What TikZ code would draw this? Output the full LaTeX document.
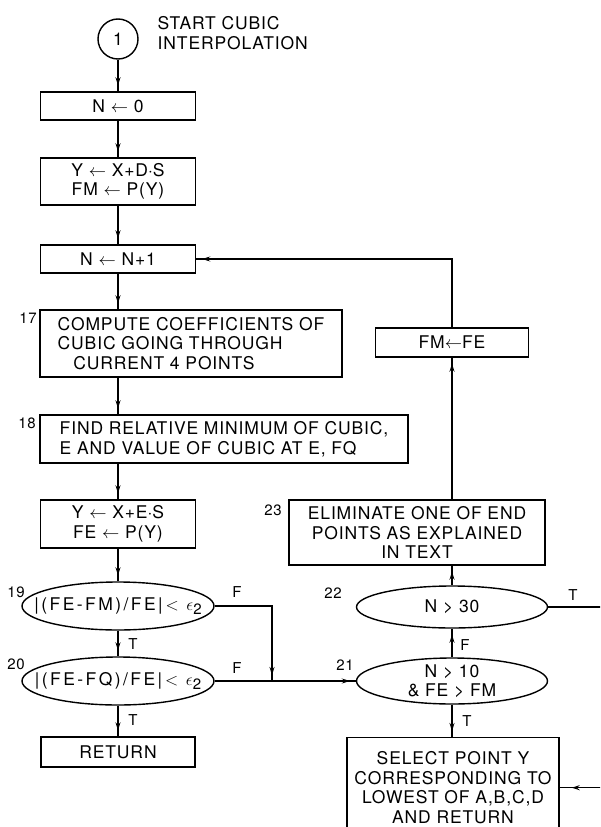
\documentclass[tikz,border=0pt]{standalone}
\usepackage{fontspec}
\setsansfont{TeX Gyre Heros}[LetterSpace=5]
\usetikzlibrary{arrows.meta,decorations.markings,shapes.geometric}
\newcommand\lettr{\fontsize{17.5}{19.5}\selectfont\sffamily}
\newcommand\numfont{\fontsize{15}{17}\selectfont\sffamily}
\newcommand\widelettr{\fontsize{17.5}{19.5}\selectfont\sffamily\addfontfeatures{LetterSpace=14}}
\newcommand\epsii{\(\,<\,\epsilon\)\raisebox{-4pt}{\numfont 2}}
\begin{document}
\begin{tikzpicture}[x=1pt,y=-1pt,line width=1.4pt,
  box/.style={draw,rectangle,inner sep=0pt,font=\lettr,align=center},
  oval/.style={draw,ellipse,inner sep=0pt},
  txt/.style={font=\lettr,align=center,inner sep=0pt},
  widetxt/.style={font=\widelettr,align=center,inner sep=0pt},
  num/.style={font=\numfont,inner sep=0pt},
  flow/.style={postaction={decorate},decoration={markings,mark=at position #1 with {\arrow{Stealth[length=8pt,width=5pt]}}}},
  flow/.default=-6pt]
\useasboundingbox (0,0) rectangle (600,827);
\clip (0,0) rectangle (600,827);
% left column
\node[draw,circle,minimum size=40pt,inner sep=0pt,font=\lettr] (c1) at (118,39) {1};
\node[txt,anchor=west,align=left] (start) at (157,33) {START CUBIC\\INTERPOLATION};
\node[box,minimum width=155pt,minimum height=28pt] (b0) at (118,106) {N \(\leftarrow\) 0};
\node[box,minimum width=155pt,minimum height=47pt] (b1) at (118,181.5) {Y \(\leftarrow\) X+D\(\cdot\)S\\FM \(\leftarrow\) P(Y)};
\node[box,minimum width=155pt,minimum height=28pt] (b2) at (118,259) {N \(\leftarrow\) N+1};
\node[box,minimum width=302pt,minimum height=67pt,align=left] (b17) at (191,343.5) {COMPUTE COEFFICIENTS OF\\CUBIC GOING THROUGH\\\hspace*{0.9em}CURRENT 4 POINTS};
\node[box,minimum width=368pt,minimum height=48pt,align=left] (b18) at (224,439) {FIND RELATIVE MINIMUM OF CUBIC,\\E AND VALUE OF CUBIC AT E, FQ};
\node[box,minimum width=155pt,minimum height=48pt] (b3) at (118,524) {Y \(\leftarrow\) X+E\(\cdot\)S\\FE \(\leftarrow\) P(Y)};
\node[oval,minimum width=192pt,minimum height=48pt,label={[widetxt]center:{|(FE-FM)/FE|\epsii}}] (e19) at (118,606) {};
\node[oval,minimum width=192pt,minimum height=48pt,label={[widetxt]center:{|(FE-FQ)/FE|\epsii}}] (e20) at (118,681) {};
\node[box,minimum width=154pt,minimum height=30pt] (ret) at (118,752) {RETURN};
% right column
\node[box,minimum width=153pt,minimum height=29pt] (fmfe) at (452,342.5) {FM\(\leftarrow\)FE};
\node[box,minimum width=256pt,minimum height=65pt] (b23) at (417,532.5) {ELIMINATE ONE OF END\\POINTS AS EXPLAINED\\IN TEXT};
\node[oval,minimum width=191pt,minimum height=42pt,label={[txt]center:{N > 30}}] (e22) at (452,607) {};
\node[oval,minimum width=191pt,minimum height=46pt,label={[txt]center:{N > 10\\\& FE > FM}}] (e21) at (452,681) {};
\node[box,minimum width=212pt,minimum height=100pt,anchor=north] (sel) at (453,737) {SELECT POINT Y\\CORRESPONDING TO\\LOWEST OF A,B,C,D\\AND RETURN};
% numbers
\node[num] (n17) at (28,318) {17};
\node[num] (n18) at (27,423) {18};
\node[num] (n19) at (16,592) {19};
\node[num] (n20) at (16,664) {20};
\node[num] (n21) at (345,665) {21};
\node[num] (n22) at (333,593) {22};
\node[num] (n23) at (273,510) {23};
% T/F labels
\node[num] (t19) at (133,644) {T};
\node[num] (t20) at (133,720) {T};
\node[num] (f19) at (237,592) {F};
\node[num] (f20) at (237,668) {F};
\node[num] (f21) at (465,645) {F};
\node[num] (t21) at (467,721) {T};
\node[num] (t22) at (573,595) {T};
\coordinate (j) at (272,681);
% connectors
\draw[flow] (c1.south) -- (b0.north);
\draw[flow] (b0.south) -- (b1.north);
\draw[flow] (b1.south) -- (b2.north);
\draw[flow] (b2.south) -- (b2.south |- b17.north);
\draw[flow] (b17.south -| b2.south) -- (b18.north -| b2.south);
\draw[flow] (b18.south -| b2.south) -- (b3.north);
\draw[flow] (b3.south) -- (e19.north);
\draw[flow] (e19.south) -- (e20.north);
\draw[flow] (e20.south) -- (ret.north);
\draw[flow] (e19.east) -| (j);
\draw[flow] (e20.east) -- (e21.west);
\draw[flow] (e21.north) -- (e22.south);
\draw[flow] (e22.north) -- (e22.north |- b23.south);
\draw[flow] (b23.north -| fmfe.south) -- (fmfe.south);
\draw[flow] (fmfe.north) |- (b2.east);
\draw[flow] (e21.south) -- (e21.south |- sel.north);
\draw[flow=-12pt] (e22.east) -- ++(62,0) |- (sel.east);
\end{tikzpicture}
\end{document}
